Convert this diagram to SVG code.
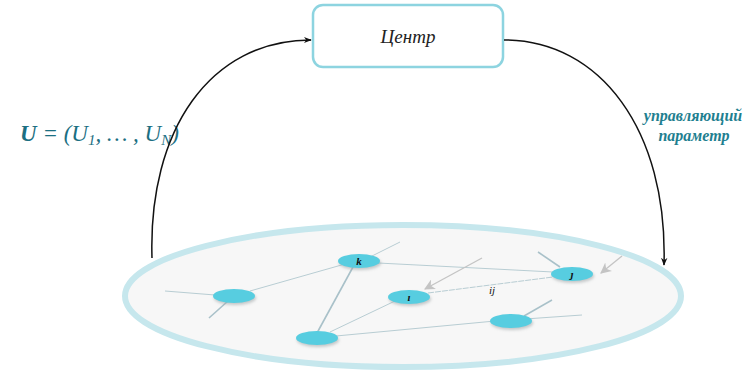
<svg xmlns="http://www.w3.org/2000/svg" width="751" height="372" viewBox="0 0 751 372">
<defs>
<style>
.node{fill:#57cde0;}
.shadow{fill:#9aa0a3;opacity:0.55;}
.edge{stroke:#b8cdd3;stroke-width:1;fill:none;}
.edge2{stroke:#a9c1c9;stroke-width:1.6;fill:none;}
.garrow{stroke:#c4c4c4;stroke-width:1.3;fill:none;}
.conn{stroke:#111;stroke-width:1.5;fill:none;}
.lbl{font-family:"Liberation Serif",serif;font-style:italic;font-size:11px;fill:#111;text-anchor:middle;}
.param{font-family:"Liberation Serif",serif;font-style:italic;font-weight:bold;font-size:16px;fill:#1f7f90;text-anchor:middle;}
</style>
<marker id="ah" viewBox="0 0 10 10" refX="9" refY="5" markerWidth="8" markerHeight="8" orient="auto" markerUnits="userSpaceOnUse">
<path d="M0,1 L10,5 L0,9 L3,5 Z" fill="#111"/>
</marker>
<marker id="gh" viewBox="0 0 10 10" refX="9" refY="5" markerWidth="11" markerHeight="11" orient="auto" markerUnits="userSpaceOnUse">
<path d="M0,0 L10,5 L0,10 L3,5 Z" fill="#c4c4c4"/>
</marker>
<filter id="sh" x="-30%" y="-60%" width="160%" height="220%">
<feGaussianBlur stdDeviation="1.5"/>
</filter>
</defs>

<g id="plate">
<ellipse cx="403" cy="296" rx="278" ry="71" fill="#f7f7f7" stroke="#c6e7ed" stroke-width="6"/>
</g>

<g id="center">
<rect x="313" y="5" width="190" height="62" rx="10" ry="10" fill="#ffffff" stroke="#8dd4e0" stroke-width="2.5"/>
<text x="408" y="43" font-family="Liberation Serif, serif" font-style="italic" font-size="19" fill="#222" text-anchor="middle">Центр</text>
</g>

<g id="label-u">
<text x="20" y="141" font-family="Liberation Serif, serif" font-style="italic" font-size="23" fill="#1c6f82"><tspan font-weight="bold">U</tspan> = (U<tspan font-size="15" dy="4">1</tspan><tspan dy="-4">, … , U</tspan><tspan font-size="15" dy="4">N</tspan><tspan dy="-4">)</tspan></text>
</g>

<g id="label-param">
<text class="param" x="693" y="121">управляющий</text>
<text class="param" x="694" y="141">параметр</text>
</g>

<g id="connectors">
<path class="conn" d="M152,258 C148,130 210,40 311,40" marker-end="url(#ah)"/>
<path class="conn" d="M504,40 C600,40 668,130 664,265" marker-end="url(#ah)"/>
</g>

<g id="edges">
<line class="edge" x1="165" y1="291" x2="215" y2="295"/>
<line class="edge2" x1="209" y1="318" x2="228" y2="301"/>
<line class="edge" x1="250" y1="291" x2="345" y2="264"/>
<line class="edge2" x1="353" y1="267" x2="317" y2="333"/>
<line class="edge" x1="370" y1="257" x2="400" y2="242"/>
<line class="edge" x1="378" y1="263" x2="553" y2="272"/>
<line class="edge" x1="330" y1="332" x2="395" y2="301"/>
<line class="edge" x1="336" y1="336" x2="495" y2="321"/>
<line class="edge" x1="525" y1="319" x2="582" y2="315"/>
<line class="edge" x1="428" y1="293" x2="553" y2="277" stroke-dasharray="6 1"/>
<line class="edge2" x1="538" y1="252" x2="560" y2="267" stroke="#a8cad6"/>
<line class="edge2" x1="552" y1="300" x2="524" y2="316" stroke="#c8c8c8"/>
<line class="garrow" x1="482" y1="258" x2="425" y2="289" marker-end="url(#gh)"/>
<line class="garrow" x1="622" y1="256" x2="601" y2="273" marker-end="url(#gh)"/>
</g>

<g id="node-left">
<ellipse class="shadow" cx="235" cy="298" rx="21" ry="7" filter="url(#sh)"/>
<ellipse class="node" cx="234" cy="296" rx="21" ry="7"/>
</g>
<g id="node-k">
<ellipse class="shadow" cx="360" cy="263" rx="21" ry="7" filter="url(#sh)"/>
<ellipse class="node" cx="359" cy="261" rx="21" ry="7"/>
<text class="lbl" x="359" y="265" font-weight="bold">k</text>
</g>
<g id="node-bottom">
<ellipse class="shadow" cx="318" cy="340" rx="21" ry="7" filter="url(#sh)"/>
<ellipse class="node" cx="317" cy="338" rx="21" ry="7"/>
</g>
<g id="node-i">
<ellipse class="shadow" cx="410" cy="299" rx="21" ry="7" filter="url(#sh)"/>
<ellipse class="node" cx="409" cy="297" rx="21" ry="7"/>
<text class="lbl" x="409" y="301" font-weight="bold">ı</text>
</g>
<g id="node-j">
<ellipse class="shadow" cx="573" cy="276" rx="21" ry="7" filter="url(#sh)"/>
<ellipse class="node" cx="572" cy="274" rx="21" ry="7"/>
<text class="lbl" x="572" y="278" font-weight="bold">ȷ</text>
</g>
<g id="node-br">
<ellipse class="shadow" cx="512" cy="323" rx="21" ry="7" filter="url(#sh)"/>
<ellipse class="node" cx="511" cy="321" rx="21" ry="7"/>
</g>

<g id="label-ij">
<text class="lbl" x="492" y="294">ij</text>
</g>
</svg>
